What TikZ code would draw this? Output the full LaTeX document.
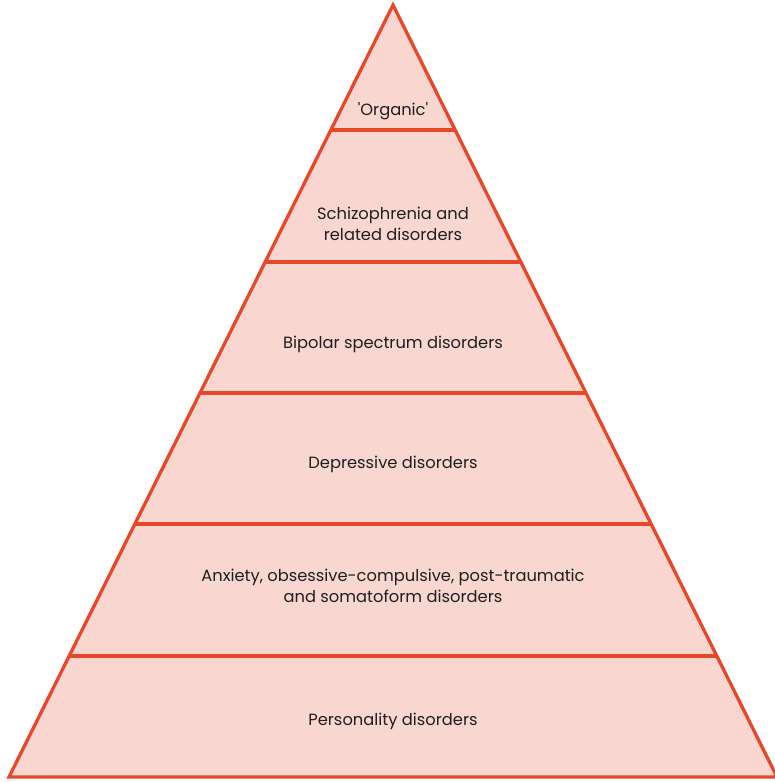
\documentclass[tikz,border=0pt]{standalone}
\usepackage{fontspec}
\newfontfamily\pop{Poppins}
\definecolor{edge}{HTML}{E8482A}
\definecolor{layer}{HTML}{F9D6D0}
\begin{document}
\begin{tikzpicture}[x=1pt,y=-1pt,
  lbl/.style={align=center,font=\pop\fontsize{16.3}{21.5}\selectfont,text=black!88},
  sep/.style={draw=edge,line width=3.3pt}]
\useasboundingbox (0,0) rectangle (774,782);
\coordinate (apex) at (393,5);
\coordinate (bl) at (9,777);
\coordinate (br) at (777,777);
\fill[layer] (apex) -- (bl) -- (br) -- cycle;
% separator lines
\foreach \y/\n in {130/a,262/b,393/c,524/d,656/e}{
  \pgfmathsetmacro{\hl}{(\y-5)*0.4974}
  \pgfmathsetmacro{\hr}{(\y-5)*0.4974}
  \coordinate (l\n) at (393-\hl,\y);
  \coordinate (r\n) at (393+\hr,\y);
  \draw[sep] (l\n) -- (r\n);
}
\draw[sep,line join=miter] (apex) -- (bl) -- (br) -- cycle;
\node[lbl] (organic) at (393,111) {'Organic'};
\node[lbl] (schizo) at (393,224) {Schizophrenia and\\related disorders};
\node[lbl] (bipolar) at (393,344) {Bipolar spectrum disorders};
\node[lbl] (depress) at (393,464) {Depressive disorders};
\node[lbl] (anxiety) at (393,586) {Anxiety, obsessive-compulsive, post-traumatic\\and somatoform disorders};
\node[lbl] (person) at (393,721) {Personality disorders};
\end{tikzpicture}
\end{document}
